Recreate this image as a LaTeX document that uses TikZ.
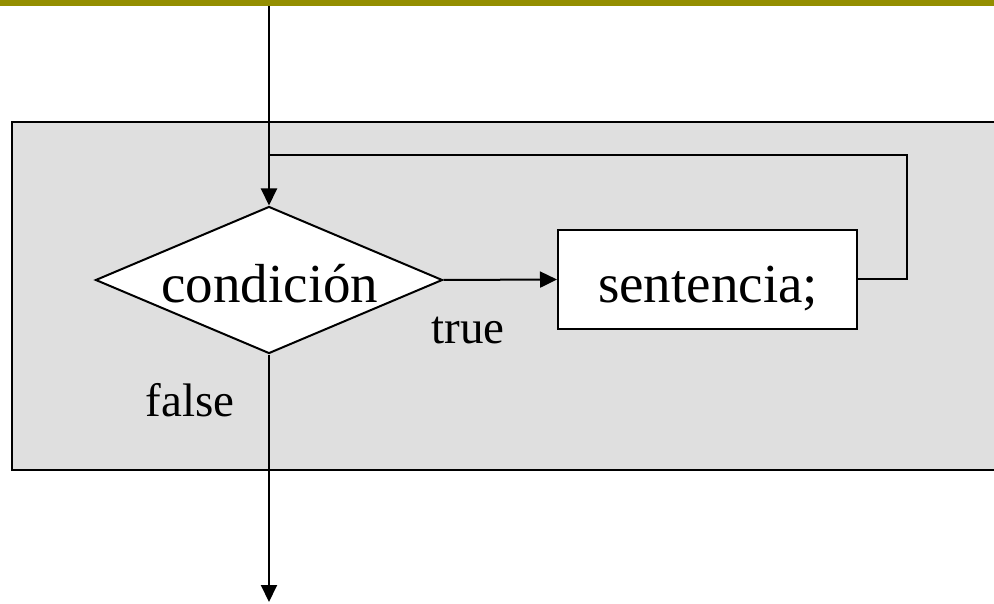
\documentclass[tikz,border=0pt]{standalone}
\usepackage{fontspec}
\setmainfont{Liberation Serif}
\usetikzlibrary{shapes.geometric,arrows.meta}
\definecolor{barolive}{RGB}{148,142,0}
\definecolor{panelgray}{RGB}{223,223,223}
\begin{document}
\begin{tikzpicture}[x=1pt,y=-1pt,
  line/.style={line width=2pt,draw=black},
  arr/.style={line,-{Triangle[length=17pt,width=16pt]}},
  bigtext/.style={font=\fontsize{55}{66}\selectfont,inner sep=0pt},
  smalltext/.style={font=\fontsize{47}{56}\selectfont,inner sep=0pt},
  decision/.style={diamond,line,fill=white,inner sep=0pt,minimum width=347pt,minimum height=147pt},
  stmtbox/.style={rectangle,line,fill=white,inner sep=0pt,minimum width=299pt,minimum height=99pt}]
\useasboundingbox (0,0) rectangle (994,604);

% header bar and loop panel
\fill[barolive] (0,0) rectangle (994,6);
\draw[line,fill=panelgray] (12,122) rectangle (1010,470);

% decision and loop body
\node[decision] (cond) at (269,280) {};
\node[bigtext,anchor=base] (condtext) at (270,303) {condición};
\node[stmtbox] (body) at (707.5,279.5) {};
\node[bigtext,anchor=base] (bodytext) at (708,303) {sentencia;};

% branch labels
\node[smalltext,anchor=base] (truelbl) at (468,343) {true};
\node[smalltext,anchor=base] (falselbl) at (190,416) {false};

% connectors
\coordinate (entry) at (269,6);
\coordinate (join) at (269,155);
\coordinate (turn) at (907,155);
\coordinate (exit) at (269,602);
\draw[arr] (entry) -- (cond.north);
\draw[arr] (cond.east) -- (body.west);
\draw[line] (body.east) -| (turn) -- (join);
\draw[arr] (cond.south) -- (exit);
\end{tikzpicture}
\end{document}
